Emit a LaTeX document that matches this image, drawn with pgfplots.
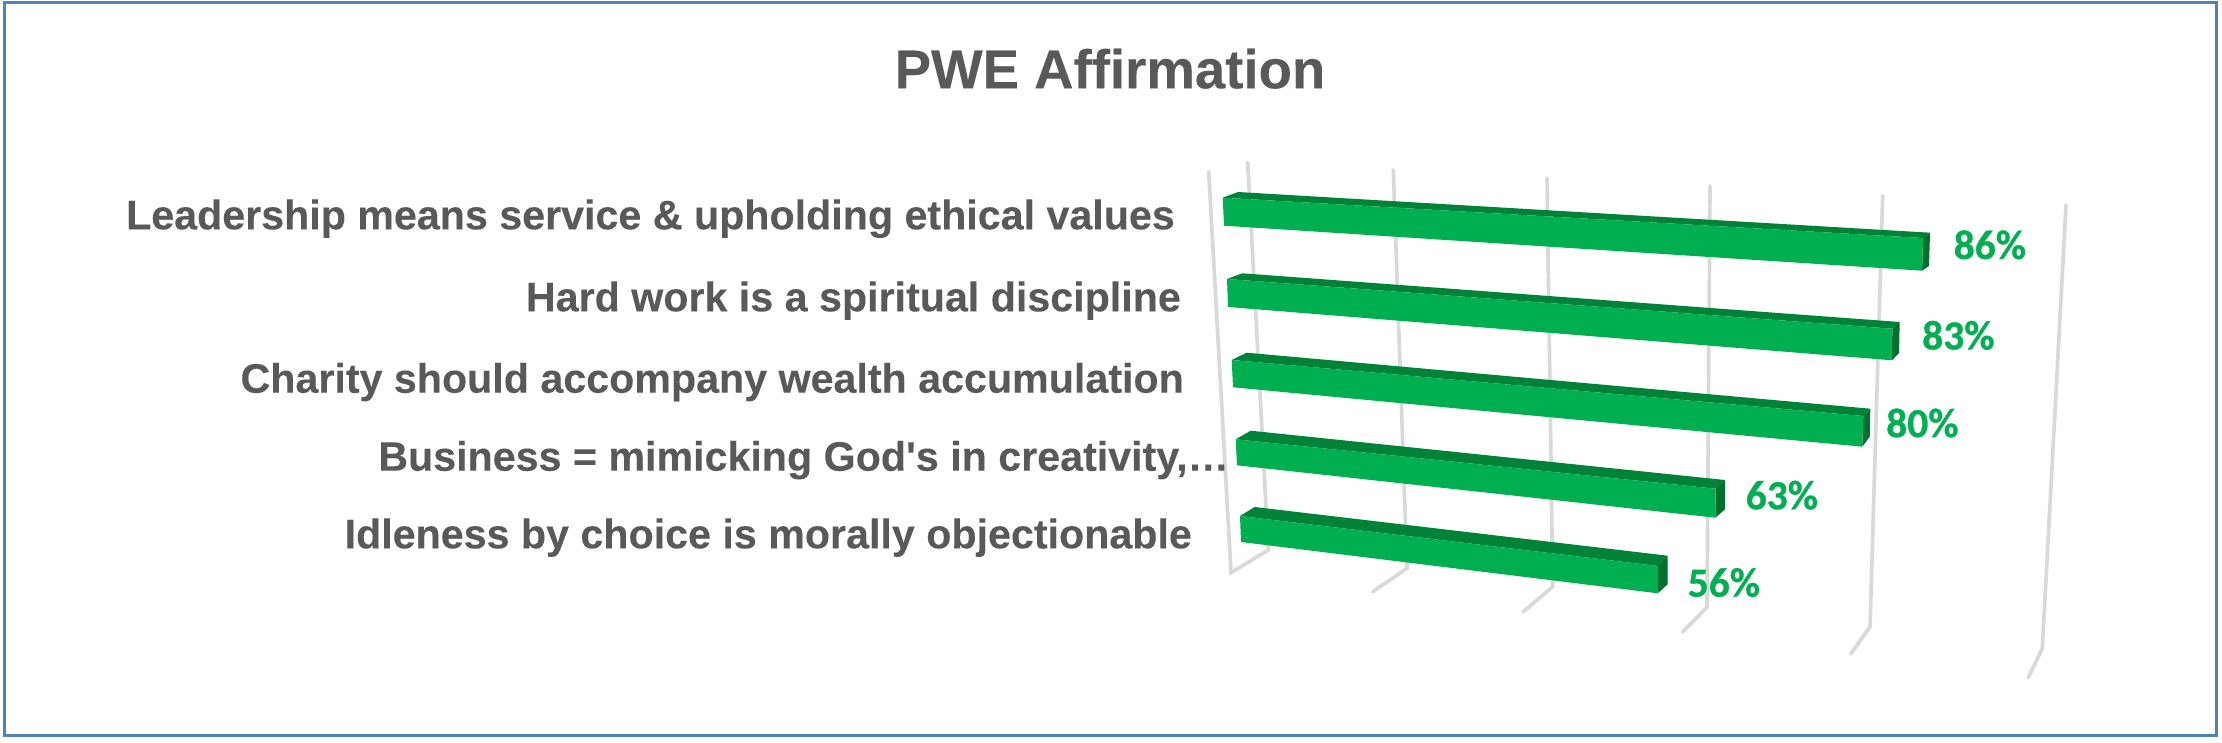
\documentclass[border=0pt]{standalone}
\usepackage{pgfplots}
\pgfplotsset{compat=1.18}
\usepackage{fontspec}
\setmainfont{Liberation Sans}[BoldFeatures={FakeBold=0.12}]
\newfontfamily\plainsans{Liberation Sans}[BoldFeatures={FakeBold=0.12}]
\newfontfamily\labelfont{Carlito}[BoldFeatures={FakeBold=0.7}]
\definecolor{txt}{HTML}{595959}
\definecolor{grn}{HTML}{00B050}
\definecolor{grntop}{HTML}{008238}
\definecolor{grnside}{HTML}{00702F}
\definecolor{grid3d}{HTML}{D9D9D9}
\definecolor{frame}{HTML}{4F81BD}
\begin{document}
\begin{tikzpicture}[x=1pt,y=1pt]
\begin{axis}[
  scale only axis, width=2222pt, height=742pt,
  xmin=0, xmax=2222, ymin=0, ymax=742, y dir=reverse,
  hide axis, clip=true,
]
% full background
\addplot[fill=white,draw=none] coordinates {(0,0)(2222,0)(2222,742)(0,742)} --cycle;
% chart frame
\addplot[draw=frame,line width=3pt] coordinates {(4.5,2.4)(2216.7,2.4)(2216.7,735.3)(4.5,735.3)} --cycle;
% gridlines (perspective)
\addplot[draw=grid3d,line width=3.7pt,line cap=round,line join=miter] coordinates {(1208.7,171.7)(1231,572.7)(1268.3,550)(1247.7,162.3)};
\addplot[draw=grid3d,line width=3.7pt,line cap=round] coordinates {(1393.3,170)(1407,568.3)(1372.7,591.7)};
\addplot[draw=grid3d,line width=3.7pt,line cap=round] coordinates {(1547,178.3)(1552.7,586.7)(1523.3,611.7)};
\addplot[draw=grid3d,line width=3.7pt,line cap=round] coordinates {(1710,186)(1707,607.3)(1682.3,632.3)};
\addplot[draw=grid3d,line width=3.7pt,line cap=round] coordinates {(1882.7,195.7)(1870,626.7)(1850.7,654)};
\addplot[draw=grid3d,line width=3.7pt,line cap=round] coordinates {(2066,205)(2042.3,648.3)(2028.3,677.7)};
% bar 1: 86
\addplot[fill=grntop,draw=none] coordinates {(1222.7,197.7)(1238,192)(1930,232.7)(1923,238)} --cycle;
\addplot[fill=grnside,draw=none] coordinates {(1923,238)(1930,232.7)(1929,266)(1922,270.7)} --cycle;
\addplot[fill=grn,draw=none] coordinates {(1222.7,197.7)(1923,238)(1922,270.7)(1224,225.7)} --cycle;
% bar 2: 83
\addplot[fill=grntop,draw=none] coordinates {(1227,279)(1242.3,273.3)(1899.7,322)(1892.3,328.7)} --cycle;
\addplot[fill=grnside,draw=none] coordinates {(1892.3,328.7)(1899.7,322)(1899,353)(1892,360.3)} --cycle;
\addplot[fill=grn,draw=none] coordinates {(1227,279)(1892.3,328.7)(1892,360.3)(1228,307)} --cycle;
% bar 3: 80
\addplot[fill=grntop,draw=none] coordinates {(1231.7,360)(1246.7,352.7)(1870.3,408.7)(1863.3,416)} --cycle;
\addplot[fill=grnside,draw=none] coordinates {(1863.3,416)(1870.3,408.7)(1869.7,436.7)(1862.3,446.7)} --cycle;
\addplot[fill=grn,draw=none] coordinates {(1231.7,360)(1863.3,416)(1862.3,446.7)(1233,387.3)} --cycle;
% bar 4: 63
\addplot[fill=grntop,draw=none] coordinates {(1235.7,439.3)(1250.7,430.7)(1725,480)(1715.7,488.7)} --cycle;
\addplot[fill=grnside,draw=none] coordinates {(1715.7,488.7)(1725,480)(1725,509.3)(1715.3,517.7)} --cycle;
\addplot[fill=grn,draw=none] coordinates {(1235.7,439.3)(1715.7,488.7)(1715.3,517.7)(1237,465.3)} --cycle;
% bar 5: 56
\addplot[fill=grntop,draw=none] coordinates {(1240,516)(1254.7,507)(1667.7,555.7)(1658,566)} --cycle;
\addplot[fill=grnside,draw=none] coordinates {(1658,566)(1667.7,555.7)(1667.7,584.3)(1657.7,593.3)} --cycle;
\addplot[fill=grn,draw=none] coordinates {(1240,516)(1658,566)(1657.7,593.3)(1241,542)} --cycle;
% title
\node[anchor=base,text=txt,font=\fontsize{54.6}{60}\selectfont\bfseries] at (axis cs:1110,88.3) {PWE Affirmation};
% categories
\begin{scope}[every node/.style={anchor=base east,text=txt,inner sep=0pt,font=\fontsize{41.2}{46}\selectfont\bfseries}]
\node at (axis cs:1175,229.3) {Leadership means service \& upholding ethical values};
\node at (axis cs:1181,311.3) {Hard work is a spiritual discipline};
\node at (axis cs:1184,392.7) {Charity should accompany wealth accumulation};
\node at (axis cs:1229,470.7) {Business = mimicking God{\plainsans\bfseries'}s in creativity,\dots};
\node at (axis cs:1192,548.3) {Idleness by choice is morally objectionable};
\end{scope}
% data labels
\begin{scope}[every node/.style={anchor=base west,text=grn,inner sep=0pt,font=\labelfont\fontsize{41.5}{46}\selectfont\bfseries}]
\node at (axis cs:1953.5,259) {86\%};
\node at (axis cs:1922,349.5) {83\%};
\node at (axis cs:1886,437.2) {80\%};
\node at (axis cs:1745.5,509.3) {63\%};
\node at (axis cs:1687.5,596.7) {56\%};
\end{scope}
\end{axis}
\end{tikzpicture}
\end{document}
